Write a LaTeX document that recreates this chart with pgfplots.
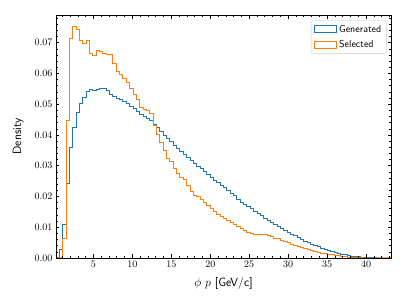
\documentclass[border=0pt]{standalone}
\usepackage{pgfplots}
\usepackage{pgfplotstable}
\pgfplotsset{compat=1.18}
\definecolor{mplblue}{RGB}{31,119,180}
\definecolor{mplorange}{RGB}{255,127,14}
\pgfplotstableread{
edge gen sel
0.20 0 0
0.63 0.0029 0
1.06 0.0110 0.0062
1.49 0.0242 0.0447
1.92 0.0360 0.0712
2.35 0.0425 0.0752
2.78 0.0474 0.0742
3.21 0.0501 0.0706
3.64 0.0523 0.0696
4.07 0.0541 0.0706
4.50 0.0548 0.0665
4.93 0.0546 0.0658
5.36 0.0549 0.0674
5.79 0.0552 0.0670
6.22 0.0550 0.0666
6.65 0.0546 0.0662
7.08 0.0530 0.0660
7.51 0.0525 0.0633
7.94 0.0520 0.0607
8.37 0.0514 0.0598
8.80 0.0508 0.0585
9.23 0.0501 0.0569
9.66 0.0493 0.0550
10.09 0.0486 0.0530
10.52 0.0476 0.0514
10.95 0.0467 0.0490
11.38 0.0461 0.0483
11.81 0.0455 0.0478
12.24 0.0446 0.0470
12.67 0.0433 0.0432
13.10 0.0424 0.0402
13.53 0.0410 0.0377
13.96 0.0398 0.0350
14.39 0.0388 0.0323
14.82 0.0378 0.0315
15.25 0.0365 0.0290
15.68 0.0357 0.0274
16.11 0.0346 0.0263
16.54 0.0335 0.0256
16.97 0.0326 0.0237
17.40 0.0318 0.0215
17.83 0.0306 0.0204
18.26 0.0298 0.0200
18.69 0.0290 0.0190
19.12 0.0281 0.0182
19.55 0.0272 0.0172
19.98 0.0262 0.0162
20.41 0.0253 0.0152
20.84 0.0245 0.0143
21.27 0.0236 0.0135
21.70 0.0228 0.0128
22.13 0.0218 0.0122
22.56 0.0210 0.0115
22.99 0.0202 0.0109
23.42 0.0191 0.0101
23.85 0.0182 0.0095
24.28 0.0175 0.0089
24.71 0.0167 0.0083
25.14 0.0160 0.0080
25.57 0.0152 0.0078
26.00 0.0145 0.0077
26.43 0.0138 0.0077
26.86 0.0130 0.0075
27.29 0.0123 0.0072
27.72 0.0117 0.0069
28.15 0.0110 0.0065
28.58 0.0103 0.0062
29.01 0.0097 0.0058
29.44 0.0090 0.0054
29.87 0.0084 0.0049
30.30 0.0078 0.0045
30.73 0.0072 0.0041
31.16 0.0066 0.0038
31.59 0.0060 0.0035
32.02 0.0055 0.0031
32.45 0.0050 0.0028
32.88 0.0045 0.0025
33.31 0.0040 0.0022
33.74 0.0036 0.0019
34.17 0.0032 0.0016
34.60 0.0028 0.0014
35.03 0.0024 0.0012
35.46 0.0021 0.0010
35.89 0.0018 0.0008
36.32 0.0015 0.0007
36.75 0.0012 0.0005
37.18 0.0010 0.0004
37.61 0.0008 0.0003
38.04 0.0006 0.0002
38.47 0.0005 0.0001
38.90 0.0004 0.0001
39.33 0.0003 0
39.76 0.0002 0
40.19 0.0001 0
40.62 0.00005 0
41.05 0 0
41.48 0 0
41.91 0 0
42.34 0 0
42.77 0 0
43.20 0 0
}\histdata
\begin{document}
\begin{tikzpicture}
\begin{axis}[
  scale only axis, width=335pt, height=243pt,
  xmin=0.2, xmax=43.2, ymin=0, ymax=0.079,
  axis on top,
  axis line style={line width=0.8pt},
  tick align=inside, xtick pos=both, ytick pos=both,
  xticklabel pos=bottom, yticklabel pos=left,
  major tick length=3.5pt, minor tick length=2pt,
  every tick/.style={black, line width=0.6pt},
  xtick={5,10,15,20,25,30,35,40},
  minor xtick={1,2,3,4,6,7,8,9,11,12,13,14,16,17,18,19,21,22,23,24,26,27,28,29,31,32,33,34,36,37,38,39,41,42,43},
  ytick={0,0.01,0.02,0.03,0.04,0.05,0.06,0.07},
  minor ytick={0.002,0.004,0.006,0.008,0.012,0.014,0.016,0.018,0.022,0.024,0.026,0.028,0.032,0.034,0.036,0.038,0.042,0.044,0.046,0.048,0.052,0.054,0.056,0.058,0.062,0.064,0.066,0.068,0.072,0.074,0.076,0.078},
  yticklabel style={/pgf/number format/.cd, fixed, fixed zerofill, precision=2},
  scaled y ticks=false,
  xlabel={$\phi$ $p$ [GeV/c]},
  ylabel={Density},
  label style={font=\sffamily\large},
  xlabel style={at={(axis description cs:0.5,-0.103)}, anchor=center},
  ylabel style={at={(axis description cs:-0.113,0.5)}, anchor=center},
  legend cell align=left,
  legend image code/.code={\draw[#1, sharp corners] (0pt,-3.5pt) rectangle (22pt,3.5pt);},
  legend style={at={(1,1)}, anchor=north east, xshift=-4.5pt, yshift=-5.5pt,
    draw=black!20, rounded corners=2pt, fill=white, fill opacity=0.8, text opacity=1,
    font=\sffamily, inner xsep=3pt, inner ysep=2.5pt, row sep=2.5pt,
    /tikz/every even column/.append style={column sep=1pt}},
]
\addplot[const plot mark left, draw=mplblue, line width=1pt] table[x=edge, y=gen] {\histdata};
\addlegendentry{Generated}
\addplot[const plot mark left, draw=mplorange, line width=1pt] table[x=edge, y=sel] {\histdata};
\addlegendentry{Selected}
\end{axis}
\path (-56pt,-47pt) rectangle (351pt,258pt);
\end{tikzpicture}
\end{document}
